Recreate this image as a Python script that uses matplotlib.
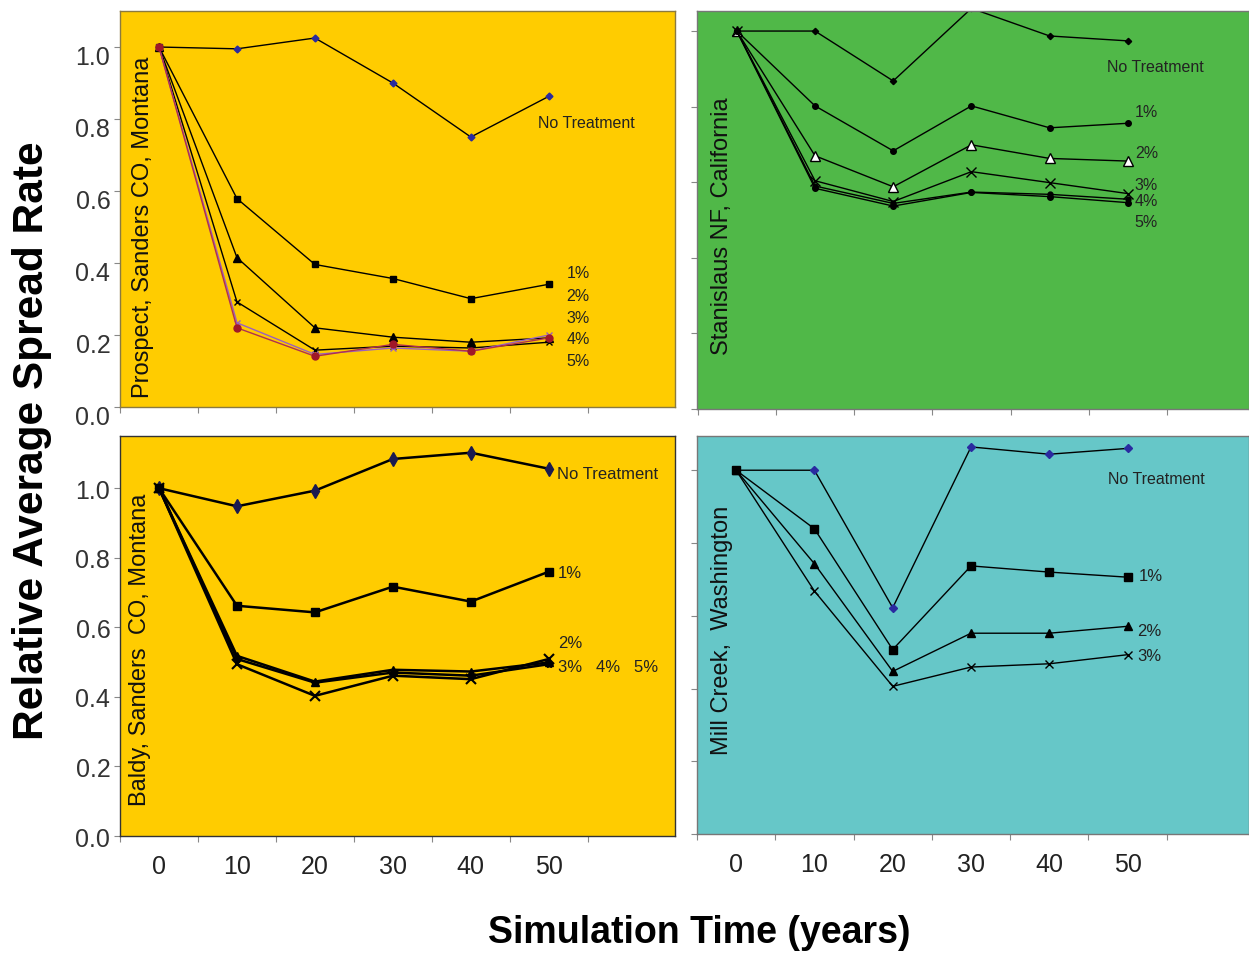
import numpy as np
import matplotlib
matplotlib.use("Agg")
import matplotlib.pyplot as plt
from matplotlib.transforms import ScaledTranslation

# ---------------- data ----------------
years = [0, 10, 20, 30, 40, 50]
year_labels = ["0", "10", "20", "30", "40", "50"]

# Prospect, Sanders CO, Montana
tl_none = [1.0, 0.995, 1.025, 0.90, 0.75, 0.863]
tl_p1 = [1.0, 0.579, 0.396, 0.357, 0.301, 0.341]
tl_p2 = [1.0, 0.415, 0.220, 0.194, 0.180, 0.192]
tl_p3 = [1.0, 0.292, 0.158, 0.169, 0.164, 0.180]
tl_p4 = [1.0, 0.234, 0.146, 0.164, 0.155, 0.200]
tl_p5 = [1.0, 0.220, 0.141, 0.174, 0.155, 0.192]

# Stanislaus NF, California
tr_none = [1.0, 1.0, 0.868, 1.06, 0.987, 0.974]
tr_p1 = [1.0, 0.802, 0.683, 0.802, 0.744, 0.756]
tr_p2 = [1.0, 0.670, 0.588, 0.699, 0.663, 0.656]
tr_p3 = [1.0, 0.604, 0.549, 0.628, 0.599, 0.570]
tr_p4 = [1.0, 0.590, 0.544, 0.574, 0.568, 0.555]
tr_p5 = [1.0, 0.584, 0.537, 0.573, 0.562, 0.546]

# Baldy, Sanders CO, Montana
bl_none = [1.0, 0.948, 0.993, 1.084, 1.102, 1.056]
bl_p1 = [1.0, 0.662, 0.643, 0.717, 0.674, 0.760]
bl_p2 = [1.0, 0.518, 0.444, 0.478, 0.473, 0.499]
bl_p3 = [1.0, 0.494, 0.403, 0.461, 0.451, 0.509]
bl_p45 = [1.0, 0.509, 0.441, 0.470, 0.461, 0.494]

# Mill Creek, Washington
br_none = [1.0, 1.0, 0.622, 1.064, 1.044, 1.060]
br_p1 = [1.0, 0.839, 0.507, 0.737, 0.720, 0.706]
br_p2 = [1.0, 0.743, 0.447, 0.552, 0.552, 0.571]
br_p3 = [1.0, 0.668, 0.406, 0.459, 0.468, 0.493]

yticks = [0.0, 0.2, 0.4, 0.6, 0.8, 1.0]
ytick_labels = ["0.0", "0.2", "0.4", "0.6", "0.8", "1.0"]

NARROW = ["Liberation Sans Narrow", "Liberation Sans", "DejaVu Sans"]
SANS = ["Liberation Sans", "DejaVu Sans"]

fig = plt.figure(figsize=(12.49, 9.54), dpi=100)
fig.patch.set_facecolor("white")

idx = np.arange(len(years))

def setup(ax, face, ylim, xlim, show_ylabels, show_xlabels, spine_col):
    ax.set_facecolor(face)
    ax.set_xlim(*xlim)
    ax.set_ylim(*ylim)
    for s in ax.spines.values():
        s.set_color(spine_col)
        s.set_linewidth(1.0)
    ax.set_yticks(yticks)
    if show_ylabels:
        ax.set_yticklabels(ytick_labels, fontsize=18, color="#333333", family=SANS)
    else:
        ax.set_yticklabels([])
    ax.tick_params(axis="y", direction="out", length=4, width=0.8, color="#888888", pad=3)
    ax.set_xticks(np.append(idx - 0.5, len(years) - 0.5))
    ax.set_xticklabels([])
    ax.tick_params(axis="x", which="major", direction="out", length=4, width=0.8, color="#888888")
    ax.set_xticks(idx, minor=True)
    if show_xlabels:
        ax.set_xticklabels(year_labels, minor=True, fontsize=18, color="#222222", family=NARROW)
    else:
        ax.set_xticklabels([], minor=True)
    ax.tick_params(axis="x", which="minor", length=0, pad=13)

def ann(ax, x, y, s, size=11.5):
    ax.text(x, y, s, fontsize=size, color="#222222", va="center", ha="left", family=SANS)

# ---------------- top-left ----------------
ax1 = fig.add_axes([0.0961, 0.5723, 0.4444, 0.4151])
setup(ax1, "#FFCC00", (0, 1.10), (-0.5, 6.62), True, False, "#8a7a40")
lk = dict(color="black", lw=1.0)
ax1.plot(idx, tl_none, marker="D", ms=3.5, mfc="#2a2aa0", mec="#2a2aa0", **lk)
ax1.plot(idx, tl_p1, marker="s", ms=5, mfc="black", mec="black", **lk)
ax1.plot(idx, tl_p2, marker="^", ms=5.5, mfc="black", mec="black", **lk)
ax1.plot(idx, tl_p3, marker="x", ms=5, mec="black", mew=1, **lk)
ax1.plot(idx, tl_p4, marker="x", ms=5, color="#9a60c0", lw=1.0, mew=1)
ax1.plot(idx, tl_p5, marker="o", ms=5, color="#b03050", mfc="#a01828", mec="#a01828", lw=1.0)
for lab in ax1.get_yticklabels():
    lab.set_transform(lab.get_transform() + ScaledTranslation(0, -7 / 100, fig.dpi_scale_trans))
ax1.text(0.041, 0.025, "Prospect, Sanders CO, Montana", transform=ax1.transAxes,
         rotation=90, ha="center", va="bottom", fontsize=17, color="#111111", family=SANS)
ann(ax1, 4.86, 0.79, "No Treatment")
for yy, s in zip([0.375, 0.311, 0.25, 0.189, 0.128], ["1%", "2%", "3%", "4%", "5%"]):
    ann(ax1, 5.23, yy, s)

# ---------------- top-right ----------------
ax2 = fig.add_axes([0.5580, 0.5702, 0.4420, 0.4172])
setup(ax2, "#50B848", (0, 1.053), (-0.51, 6.55), False, False, "#777777")
ax2.plot(idx, tr_none, marker="D", ms=3.2, mfc="black", mec="black", **lk)
ax2.plot(idx, tr_p1, marker="o", ms=4, mfc="black", mec="black", **lk)
ax2.plot(idx, tr_p2, marker="^", ms=7, mfc="white", mec="black", mew=1.0, **lk)
ax2.plot(idx, tr_p3, marker="x", ms=7, mec="black", mew=1.0, **lk)
ax2.plot(idx, tr_p4, marker="o", ms=3.5, mfc="black", mec="black", **lk)
ax2.plot(idx, tr_p5, marker="o", ms=4, mfc="black", mec="black", **lk)
ax2.text(0.045, 0.138, "Stanislaus NF, California", transform=ax2.transAxes,
         rotation=90, ha="center", va="bottom", fontsize=17, color="#111111", family=SANS)
ann(ax2, 4.73, 0.905, "No Treatment")
for yy, s in zip([0.788, 0.68, 0.593, 0.553, 0.497], ["1%", "2%", "3%", "4%", "5%"]):
    ann(ax2, 5.09, yy, s)

# ---------------- bottom-left ----------------
ax3 = fig.add_axes([0.0961, 0.1226, 0.4444, 0.4193])
setup(ax3, "#FFCC00", (0, 1.15), (-0.5, 6.62), True, True, "#333333")
lk2 = dict(color="black", lw=1.8)
ax3.plot(idx, bl_none, marker="d", ms=7, mfc="#1a1a50", mec="#1a1a50", **lk2)
ax3.plot(idx, bl_p1, marker="s", ms=6, mfc="black", mec="black", **lk2)
ax3.plot(idx, bl_p2, marker="^", ms=6, mfc="black", mec="black", **lk2)
ax3.plot(idx, bl_p45, marker="*", ms=6, mfc="black", mec="black", **lk2)
ax3.plot(idx, bl_p3, marker="x", ms=7, mec="black", mew=1.5, **lk2)
ax3.text(0.036, 0.078, "Baldy, Sanders  CO, Montana", transform=ax3.transAxes,
         rotation=90, ha="center", va="bottom", fontsize=17, color="#111111", family=SANS)
ann(ax3, 5.10, 1.043, "No Treatment", 12)
ann(ax3, 5.12, 0.759, "1%", 12)
ann(ax3, 5.12, 0.555, "2%", 12)
ann(ax3, 5.12, 0.486, "3%   4%   5%", 12)

# ---------------- bottom-right ----------------
ax4 = fig.add_axes([0.5580, 0.1247, 0.4420, 0.4172])
setup(ax4, "#66C7C8", (0, 1.094), (-0.5, 6.55), False, True, "#777777")
ax4.plot(idx, br_none, marker="D", ms=4.5, mfc="#2a2aa0", mec="#2a2aa0", **lk)
ax4.plot(idx, br_p1, marker="s", ms=6, mfc="black", mec="black", **lk)
ax4.plot(idx, br_p2, marker="^", ms=6, mfc="black", mec="black", **lk)
ax4.plot(idx, br_p3, marker="x", ms=6, mec="black", mew=1.0, **lk)
ax4.text(0.045, 0.20, "Mill Creek,  Washington", transform=ax4.transAxes,
         rotation=90, ha="center", va="bottom", fontsize=17, color="#111111", family=SANS)
ann(ax4, 4.75, 0.978, "No Treatment")
ann(ax4, 5.14, 0.712, "1%", 12)
ann(ax4, 5.12, 0.56, "2%", 12)
ann(ax4, 5.12, 0.492, "3%", 12)

# ---------------- shared labels ----------------
fig.text(0.0256, 0.538, "Relative Average Spread Rate", rotation=90, ha="center", va="center",
         fontsize=30.5, fontweight="bold", color="black", family=SANS)
fig.text(0.560, 0.022, "Simulation Time (years)", ha="center", va="center",
         fontsize=27, fontweight="bold", color="black", family=NARROW)

fig.savefig("out.png", dpi=100, facecolor="white")
